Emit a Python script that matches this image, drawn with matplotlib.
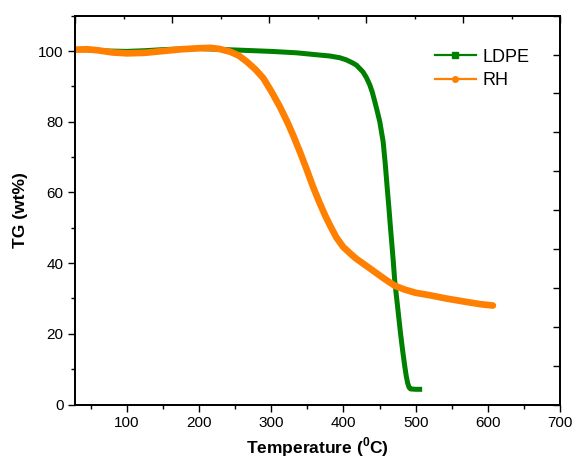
"""TGA curves of LDPE and rice husk (RH)."""

import numpy as np
import matplotlib
matplotlib.use("Agg")
import matplotlib.pyplot as plt
from matplotlib.lines import Line2D
from matplotlib.ticker import MultipleLocator, NullFormatter

plt.rcParams["font.family"] = ["Liberation Sans", "DejaVu Sans"]
plt.rcParams["mathtext.fontset"] = "custom"
plt.rcParams["mathtext.rm"] = "Liberation Sans"
plt.rcParams["mathtext.bf"] = "Liberation Sans:bold"

# LDPE curve (temperature in degC, mass in wt%)
ldpe_t = [28, 50, 75, 100, 125, 150, 175, 200, 225, 250, 275, 300, 335, 360, 381,
          395, 404, 413, 418, 427, 432, 436.5, 440, 443.4, 447, 450.3, 455, 458,
          460.5, 463, 465, 467, 469, 471, 474, 477, 479, 482, 485, 487, 489, 491,
          493, 500, 509]
ldpe_w = [100.4, 100.3, 100.0, 99.9, 100.1, 100.4, 100.6, 100.7, 100.5, 100.3, 100.1,
          99.9, 99.5, 99.0, 98.6, 98.1, 97.5, 96.6, 96.0, 94.1, 92.4, 90.4, 88.3, 85.7,
          82.8, 80.0, 74.3, 67.8, 61.5, 55.5, 50.3, 45.5, 40.5, 35.0, 29.5, 23.9, 20.2,
          15.2, 10.7, 8.0, 6.0, 4.8, 4.4, 4.3, 4.3]

# RH curve
rh_t = [28, 45, 60, 80, 100, 125, 150, 175, 200, 215, 228, 243, 255, 266, 278, 289,
        300, 312, 322, 330, 340, 349, 358, 367, 375, 381, 390, 399.5, 410, 418, 427,
        440, 455, 471, 485, 500, 520, 542, 565, 589, 607]
rh_w = [100.4, 100.5, 100.2, 99.6, 99.35, 99.5, 100.0, 100.5, 100.8, 100.9, 100.6,
        99.8, 98.7, 97.0, 94.8, 92.3, 88.6, 84.2, 80.0, 76.3, 71.3, 66.5, 61.5, 57.0,
        53.3, 50.8, 47.3, 44.6, 42.6, 41.2, 39.9, 38.0, 35.8, 33.6, 32.5, 31.6, 30.9,
        30.0, 29.2, 28.4, 28.0]

x_range = (28, 700)
y_range = (0, 110)

GREEN = "#008000"
ORANGE = "#ff8000"

fig = plt.figure(figsize=(5.74, 4.59), dpi=100)
ax = fig.add_axes([75 / 574, 1 - 404.5 / 459, 485 / 574, 388.8 / 459])

ax.plot(ldpe_t, ldpe_w, color=GREEN, lw=3.6, solid_capstyle="butt",
        solid_joinstyle="round")
ax.plot(rh_t, rh_w, color=ORANGE, lw=4.8, solid_capstyle="round",
        solid_joinstyle="round")

ax.set_xlim(*x_range)
ax.set_ylim(*y_range)
ax.xaxis.set_major_locator(MultipleLocator(100))
ax.xaxis.set_minor_locator(MultipleLocator(50))
ax.yaxis.set_major_locator(MultipleLocator(20))
ax.yaxis.set_minor_locator(MultipleLocator(10))
ax.tick_params(which="both", direction="out", width=1.0, labelsize=11, pad=3.5,
               top=False, right=False)
ax.tick_params(which="major", length=4.8)
ax.tick_params(which="minor", length=2.9)
for spine in ax.spines.values():
    spine.set_linewidth(1.1)

# top and right frames carry their own evenly spaced inward ticks
top = ax.twiny()
top.set_xlim(*x_range)
top.set_xticks(np.linspace(*x_range, 6))
top.set_xticks(np.linspace(*x_range, 11), minor=True)
top.xaxis.set_major_formatter(NullFormatter())
top.tick_params(which="both", direction="in", width=1.0)
top.tick_params(which="major", length=5)
top.tick_params(which="minor", length=2.5)

right = ax.twinx()
right.set_ylim(*y_range)
right.set_yticks(np.linspace(*y_range, 11))
right.yaxis.set_major_formatter(NullFormatter())
right.tick_params(direction="in", length=5, width=1.0)
for extra in (top, right):
    for spine in extra.spines.values():
        spine.set_linewidth(1.1)

ax.set_xlabel(r"Temperature ($^{\mathbf{0}}$C)", fontsize=12.5, fontweight="bold",
              labelpad=4)
ax.set_ylabel("TG (wt%)", fontsize=12.5, fontweight="bold", labelpad=7)

handles = [
    Line2D([], [], color=GREEN, lw=1.6, marker="s", markersize=4),
    Line2D([], [], color=ORANGE, lw=1.6, marker="o", markersize=4),
]
ax.legend(handles, ["LDPE", "RH"], loc="upper left", bbox_to_anchor=(0.742, 0.915),
          frameon=False, fontsize=13, handlelength=2.27, handletextpad=0.35,
          borderaxespad=0, borderpad=0, labelspacing=0.35)

fig.savefig("out.png", dpi=100)
